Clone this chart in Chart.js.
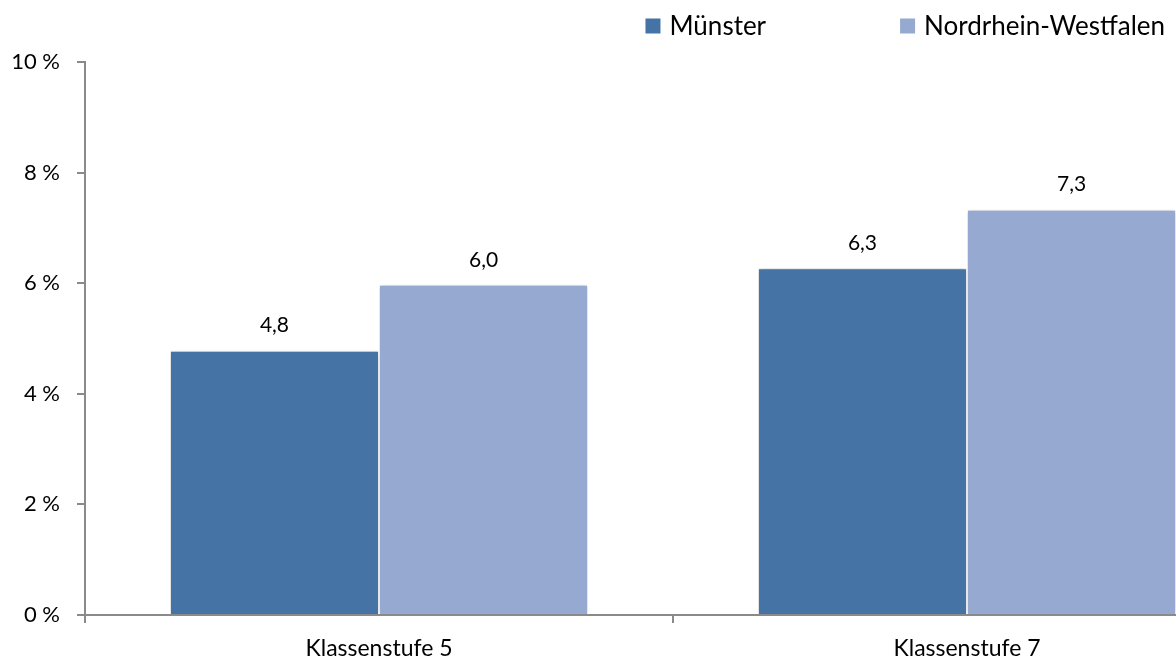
<!DOCTYPE html>
<html>
<head>
<meta charset="utf-8">
<script src="https://cdn.jsdelivr.net/npm/chart.js@4/dist/chart.umd.min.js"></script>
<style>
  html, body { margin: 0; padding: 0; background: #fff; overflow: hidden; }
  #wrap { position: absolute; left: 0; top: 0; width: 1261px; height: 661px; }
</style>
</head>
<body>
<div id="wrap"><canvas id="c" width="1261" height="661"></canvas></div>
<script>
const categories = ['Klassenstufe 5', 'Klassenstufe 7'];
const seriesNames = ['Münster', 'Nordrhein-Westfalen'];
const muensterValues = [4.78, 6.27];
const nrwValues = [5.97, 7.33];
const yTicks = [0, 2, 4, 6, 8, 10];
const seriesColors = ['#4673A6', '#96A9D1'];

const FONT = 'Lato, "Open Sans", sans-serif';
const AXIS = '#8a8a8a';

// Legend drawn from the chart's datasets, right-aligned at the visible edge
const topLegend = {
  id: 'topLegend',
  afterDraw(chart) {
    const ctx = chart.ctx;
    const opts = { right: 1165, centerY: 26, box: 15, gapText: 9, gapItem: 134, size: 26 };
    ctx.save();
    ctx.font = opts.size + 'px ' + FONT;
    ctx.textBaseline = 'middle';
    ctx.textAlign = 'left';
    const items = chart.data.datasets.map(ds => ({ text: ds.label, color: ds.backgroundColor,
      w: opts.box + opts.gapText + ctx.measureText(ds.label).width }));
    let total = items.reduce((a, it) => a + it.w, 0) + opts.gapItem * (items.length - 1);
    let x = opts.right - total;
    items.forEach(it => {
      ctx.fillStyle = it.color;
      ctx.fillRect(x, opts.centerY - opts.box / 2, opts.box, opts.box);
      ctx.fillStyle = '#000';
      ctx.fillText(it.text, x + opts.box + opts.gapText, opts.centerY + 1);
      x += it.w + opts.gapItem;
    });
    ctx.restore();
  }
};

const barShadow = {
  id: 'barShadow',
  beforeDatasetDraw(chart) {
    const ctx = chart.ctx;
    ctx.save();
    ctx.shadowColor = 'rgba(0,0,0,0.28)';
    ctx.shadowBlur = 5;
    ctx.shadowOffsetX = 0;
    ctx.shadowOffsetY = 0;
  },
  afterDatasetDraw(chart) {
    chart.ctx.restore();
  }
};

const valueLabels = {
  id: 'valueLabels',
  afterDatasetsDraw(chart) {
    const ctx = chart.ctx;
    ctx.save();
    ctx.font = '21px ' + FONT;
    ctx.fillStyle = '#000';
    ctx.textAlign = 'center';
    ctx.textBaseline = 'middle';
    chart.data.datasets.forEach((ds, di) => {
      const meta = chart.getDatasetMeta(di);
      meta.data.forEach((el, i) => {
        const v = ds.data[i];
        ctx.fillText(v.toFixed(1).replace('.', ','), el.x, el.y - 25);
      });
    });
    ctx.restore();
  }
};

const chart = new Chart(document.getElementById('c'), {
  type: 'bar',
  data: {
    labels: categories,
    datasets: [
      { label: seriesNames[0], data: muensterValues, backgroundColor: seriesColors[0],
        borderColor: '#ffffff', borderWidth: 1, categoryPercentage: 0.711, barPercentage: 1.0 },
      { label: seriesNames[1], data: nrwValues, backgroundColor: seriesColors[1],
        borderColor: '#ffffff', borderWidth: 1, categoryPercentage: 0.711, barPercentage: 1.0 }
    ]
  },
  options: {
    responsive: false,
    animation: false,
    layout: { padding: { top: 62, right: 0, bottom: 0, left: 0 } },
    plugins: {
      legend: { display: false },
      tooltip: { enabled: false }
    },
    scales: {
      x: {
        z: 1,
        grid: { display: true, offset: true, drawOnChartArea: false, drawTicks: true,
                tickLength: 8, color: AXIS, lineWidth: 2 },
        border: { display: true, color: AXIS, width: 2 },
        ticks: { font: { family: FONT, size: 23 }, color: '#000', padding: 12, maxRotation: 0 },
        afterFit(s) { s.height = 46; }
      },
      y: {
        min: 0, max: 10,
        afterBuildTicks(s) { s.ticks = yTicks.map(v => ({ value: v })); },
        grid: { display: true, drawOnChartArea: false, drawTicks: true, tickLength: 8,
                color: AXIS, lineWidth: 2 },
        border: { display: true, color: AXIS, width: 2 },
        ticks: { font: { family: FONT, size: 22 }, color: '#000', padding: 17,
                 callback: v => v + ' %' },
        afterFit(s) { s.width = 85; }
      }
    }
  },
  plugins: [barShadow, valueLabels, topLegend]
});

const dTop = 62 - chart.chartArea.top;
if (Math.abs(dTop) > 0.5) {
  chart.options.layout.padding.top = Math.max(0, 62 + dTop);
  chart.update('none');
}
</script>
</body>
</html>
